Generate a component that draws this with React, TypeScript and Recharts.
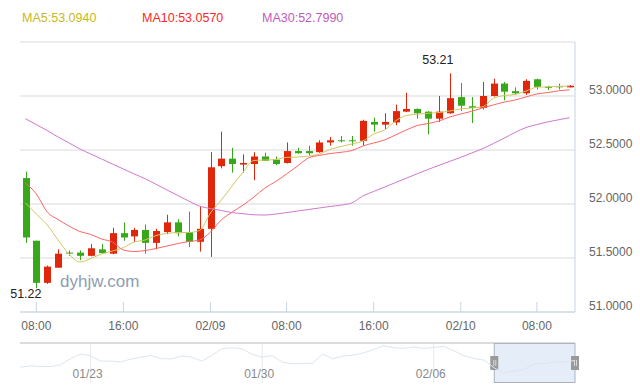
import {
  ComposedChart,
  LineChart,
  Bar,
  Line,
  XAxis,
  YAxis,
  CartesianGrid,
  ReferenceArea,
} from "recharts";

// hourly candles, 02/08 07:00 -> 02/10 11:00 (06:00 slot has no trading)
const times = [
  "02/08 07:00", "02/08 08:00", "02/08 09:00", "02/08 10:00", "02/08 11:00", "02/08 12:00",
  "02/08 13:00", "02/08 14:00", "02/08 15:00", "02/08 16:00", "02/08 17:00", "02/08 18:00",
  "02/08 19:00", "02/08 20:00", "02/08 21:00", "02/08 22:00", "02/08 23:00",
  "02/09 00:00", "02/09 01:00", "02/09 02:00", "02/09 03:00", "02/09 04:00", "02/09 05:00",
  "02/09 07:00", "02/09 08:00", "02/09 09:00", "02/09 10:00", "02/09 11:00", "02/09 12:00",
  "02/09 13:00", "02/09 14:00", "02/09 15:00", "02/09 16:00", "02/09 17:00", "02/09 18:00",
  "02/09 19:00", "02/09 20:00", "02/09 21:00", "02/09 22:00", "02/09 23:00",
  "02/10 00:00", "02/10 01:00", "02/10 02:00", "02/10 03:00", "02/10 04:00", "02/10 05:00",
  "02/10 07:00", "02/10 08:00", "02/10 09:00", "02/10 10:00", "02/10 11:00",
];

const opens = [
  52.24, 51.66, 51.27, 51.41, 51.55, 51.55, 51.52, 51.58, 51.54, 51.73, 51.7,
  51.76, 51.64, 51.74, 51.83, 51.74, 51.65, 51.77, 52.35, 52.42, 52.365, 52.37,
  52.44, 52.41, 52.38, 52.49, 52.49, 52.48, 52.57, 52.59, 52.59, 52.585, 52.76,
  52.735, 52.755, 52.855, 52.88, 52.855, 52.79, 52.84, 52.99, 52.905, 52.89,
  53.0, 53.115, 53.045, 53.025, 53.155, 53.085, 53.09, 53.08,
];
const closes = [
  51.69, 51.27, 51.42, 51.54, 51.545, 51.52, 51.59, 51.545, 51.73, 51.69, 51.76,
  51.64, 51.75, 51.83, 51.73, 51.65, 51.77, 52.34, 52.42, 52.37, 52.38, 52.44,
  52.4, 52.37, 52.49, 52.47, 52.47, 52.57, 52.59, 52.585, 52.585, 52.77, 52.735,
  52.76, 52.86, 52.88, 52.84, 52.79, 52.855, 52.98, 52.91, 52.89, 53.0, 53.115,
  53.04, 53.025, 53.14, 53.085, 53.08, 53.085, 53.095,
];
const highs = [
  52.3, 51.66, 51.43, 51.58, 51.57, 51.57, 51.63, 51.63, 51.78, 51.83, 51.78,
  51.81, 51.77, 51.9, 51.86, 51.93, 51.98, 52.48, 52.67, 52.52, 52.46, 52.48,
  52.475, 52.44, 52.57, 52.52, 52.54, 52.59, 52.62, 52.63, 52.63, 52.78, 52.8,
  52.84, 52.92, 53.03, 52.885, 52.86, 53.0, 53.21, 53.12, 52.99, 53.13, 53.16,
  53.13, 53.08, 53.155, 53.16, 53.095, 53.115, 53.1,
];
const lows = [
  51.64, 51.22, 51.26, 51.41, 51.52, 51.48, 51.515, 51.54, 51.535, 51.66, 51.65,
  51.54, 51.58, 51.72, 51.7, 51.6, 51.56, 51.51, 52.33, 52.29, 52.29, 52.22,
  52.4, 52.36, 52.375, 52.465, 52.45, 52.475, 52.54, 52.57, 52.54, 52.54, 52.67,
  52.69, 52.73, 52.85, 52.79, 52.645, 52.76, 52.835, 52.86, 52.75, 52.875, 52.995,
  52.96, 53.01, 53.01, 53.06, 53.055, 53.06, 53.08,
];

const ma5 = [
  52.01, 51.907, 51.806, 51.667, 51.537, 51.463, 51.495, 51.537, 51.565, 51.597,
  51.648, 51.667, 51.708, 51.727, 51.736, 51.736, 51.755, 51.917, 52.037, 52.167,
  52.296, 52.403, 52.407, 52.412, 52.432, 52.435, 52.444, 52.463, 52.505, 52.532,
  52.556, 52.583, 52.648, 52.685, 52.769, 52.82, 52.831, 52.84, 52.847, 52.861,
  52.88, 52.889, 52.9, 52.978, 53.004, 53.014, 53.046, 53.081, 53.085, 53.088, 53.094,
];
const ma10 = [
  52.194, 52.093, 51.926, 51.856, 51.796, 51.745, 51.718, 51.676, 51.648, 51.574,
  51.56, 51.569, 51.588, 51.611, 51.634, 51.653, 51.667, 51.74, 51.852, 51.926,
  51.99, 52.065, 52.148, 52.208, 52.278, 52.352, 52.426, 52.45, 52.467, 52.479,
  52.495, 52.537, 52.565, 52.593, 52.639, 52.685, 52.727, 52.745, 52.769, 52.806,
  52.833, 52.858, 52.889, 52.917, 52.944, 52.963, 52.991, 53.019, 53.032, 53.048, 53.057,
];
const ma30 = [
  52.79, 52.735, 52.68, 52.62, 52.566, 52.51, 52.463, 52.417, 52.37, 52.324,
  52.278, 52.234, 52.183, 52.13, 52.079, 52.028, 51.98, 51.958, 51.94, 51.92,
  51.91, 51.9, 51.898, 51.907, 51.92, 51.935, 51.949, 51.963, 51.977, 51.99,
  52.01, 52.074, 52.116, 52.157, 52.198, 52.239, 52.28, 52.32, 52.358, 52.395,
  52.432, 52.472, 52.512, 52.56, 52.61, 52.663, 52.708, 52.736, 52.76, 52.78, 52.799,
];

const xTicks = [
  "02/08 08:00", "02/08 16:00", "02/09 00:00", "02/09 08:00",
  "02/09 16:00", "02/10 00:00", "02/10 08:00",
];
const yTicks = [51, 51.5, 52, 52.5, 53];

const legendNames = ["MA5", "MA10", "MA30"];
const legendValues = ["53.0940", "53.0570", "52.7990"];

// overview strip under the chart (whole history, coarse)
const sliderValues = [
  52.17, 52.36, 52.27, 52.27, 52.5, 53.36, 54.02, 53.79, 53.03, 53.03, 52.93,
  53.31, 53.6, 53.83, 53.36, 53.36, 53.74, 53.6, 53.03, 53.83, 54.78, 54.93,
  54.78, 53.98, 53.6, 53.79, 52.88, 52.65, 52.69, 52.74, 54.02, 53.36, 53.74,
  53.88, 54.17, 54.64, 55.21, 54.93, 54.83, 55.02, 54.83, 54.97, 55.12, 54.5,
  53.79, 53.4, 53.17, 52.08, 51.36, 51.65, 51.89, 52.65, 52.69, 52.88, 52.93, 53.12,
];
const sliderTicks = [7, 24, 41];
const sliderTickLabels = ["01/23", "01/30", "02/06"];
const sliderWindow = [47, 55];

const RED = "#e0260b";
const GREEN = "#37a81a";
const BORDER = "#c8d4e2";
const LABEL = "#666";
const FONT = "'Liberation Sans', Arial, sans-serif";
const maColors = ["#c9b820", "#ff2626", "#bd5cbd"];
const maLineColors = ["#d2c65e", "#ff6464", "#cf78cf"];

const rows = times.map((time, i) => ({
  time,
  open: opens[i],
  close: closes[i],
  high: highs[i],
  low: lows[i],
  range: [lows[i], highs[i]],
  ma5: ma5[i],
  ma10: ma10[i],
  ma30: ma30[i],
}));

const hiIdx = highs.indexOf(Math.max(...highs));
const loIdx = lows.indexOf(Math.min(...lows));

const sliderRows = sliderValues.map((v, i) => ({ i, v }));

function fmtTime(t: string) {
  const [d, h] = t.split(" ");
  return h === "00:00" ? d : h;
}

function Candle(props: any) {
  const { x, y, width, height, payload, index } = props;
  const { open, close, high, low } = payload;
  const top = Math.min(y, y + height);
  const bot = Math.max(y, y + height);
  const span = high - low || 1;
  const py = (v: number) => top + ((high - v) / span) * (bot - top);
  const cx = Math.round(x + width / 2) + 0.5;
  const color = close >= open ? RED : GREEN;
  const bTop = py(Math.max(open, close));
  const bBot = py(Math.min(open, close));
  const bw = 7;
  return (
    <g>
      <line x1={cx} x2={cx} y1={top} y2={bot} stroke={color} strokeWidth={1} />
      <rect
        x={cx - bw / 2}
        y={bTop}
        width={bw}
        height={Math.max(1, bBot - bTop)}
        fill={color}
      />
      {index === hiIdx && (
        <text x={cx + 3} y={top - 9} textAnchor="end" fontSize={12.5} fill="#222" fontFamily={FONT}>
          {high.toFixed(2)}
        </text>
      )}
      {index === loIdx && (
        <text x={cx + 5} y={bot + 10} textAnchor="end" fontSize={12.5} fill="#222" fontFamily={FONT}>
          {low.toFixed(2)}
        </text>
      )}
    </g>
  );
}

function TimeTick(props: any) {
  const { x, y, payload } = props;
  return (
    <g>
      <line x1={x} x2={x} y1={y - 10} y2={y} stroke={BORDER} />
      <text x={x} y={y + 18} textAnchor="middle" fontSize={12} fill={LABEL} fontFamily={FONT}>
        {fmtTime(payload.value)}
      </text>
    </g>
  );
}

function PriceTick(props: any) {
  const { x, y, payload } = props;
  return (
    <text x={x + 14} y={y - 2} textAnchor="start" fontSize={12} fill={LABEL} fontFamily={FONT}>
      {Number(payload.value).toFixed(4)}
    </text>
  );
}

// bottom axis of the overview strip: y is the strip's bottom edge
function SliderTick(props: any) {
  const { x, y, payload } = props;
  const k = sliderTicks.indexOf(Number(payload.value));
  if (k < 0) return <g />;
  return (
    <g>
      <line x1={x} x2={x} y1={y - 40} y2={y} stroke="#e8e8e8" />
      <text x={x - 3} y={y - 5.5} textAnchor="middle" fontSize={12} fill="#8a8a8a" fontFamily={FONT}>
        {sliderTickLabels[k]}
      </text>
    </g>
  );
}

function WindowShape(props: any) {
  const { x, y, width, height } = props;
  const hy = y + height / 2 - 7;
  const handle = (hx: number) => (
    <g>
      <rect x={hx - 4} y={hy} width={8} height={14} fill="#9a9a9a" />
      <line x1={hx - 0.5} x2={hx - 0.5} y1={hy + 4} y2={hy + 10} stroke="#d8d8d8" />
      <line x1={hx + 1.5} x2={hx + 1.5} y1={hy + 4} y2={hy + 10} stroke="#d8d8d8" />
    </g>
  );
  return (
    <g>
      <rect x={x} y={y + 0.5} width={width} height={height - 1} fill="#dfe9f7" fillOpacity={0.8} stroke="#a9b3c0" />
      {handle(x)}
      {handle(x + width)}
    </g>
  );
}

export default function App() {
  return (
    <div
      style={{
        position: "absolute",
        left: 0,
        top: 0,
        width: 640,
        height: 385,
        background: "#fff",
        fontFamily: FONT,
      }}
    >
      <ComposedChart
        width={640}
        height={340}
        data={rows}
        margin={{ top: 42, right: 0, left: 20, bottom: 8 }}
      >
        <CartesianGrid vertical={false} stroke="#d9d9d9" />
        <XAxis
          dataKey="time"
          ticks={xTicks}
          interval={0}
          height={20}
          tickSize={0}
          tickMargin={0}
          tickLine={false}
          axisLine={{ stroke: BORDER }}
          tick={<TimeTick />}
        />
        <XAxis
          xAxisId="top"
          dataKey="time"
          orientation="top"
          height={0}
          tick={false}
          tickLine={false}
          axisLine={{ stroke: BORDER }}
        />
        <YAxis
          orientation="right"
          width={65}
          domain={[51, 53.5]}
          ticks={yTicks}
          allowDataOverflow
          tickSize={0}
          tickMargin={0}
          tickLine={false}
          axisLine={{ stroke: BORDER }}
          tick={<PriceTick />}
        />
        <YAxis
          yAxisId="left"
          orientation="left"
          width={0}
          tick={false}
          tickLine={false}
          axisLine={{ stroke: BORDER }}
        />
        <Bar
          dataKey="range"
          isAnimationActive={false}
          shape={(p: any) => <Candle {...p} />}
        />
        <Line type="monotone" dataKey="ma5" stroke={maLineColors[0]} strokeWidth={1} dot={false} activeDot={false} isAnimationActive={false} />
        <Line type="monotone" dataKey="ma10" stroke={maLineColors[1]} strokeWidth={1} dot={false} activeDot={false} isAnimationActive={false} />
        <Line type="monotone" dataKey="ma30" stroke={maLineColors[2]} strokeWidth={1} dot={false} activeDot={false} isAnimationActive={false} />
      </ComposedChart>

      <div style={{ position: "absolute", left: 0, top: 342 }}>
        <LineChart
          width={640}
          height={42}
          data={sliderRows}
          margin={{ top: 0, right: 65, left: 20, bottom: 0 }}
        >
          <XAxis
            xAxisId="edge"
            dataKey="i"
            orientation="top"
            height={1}
            tick={false}
            tickLine={false}
            axisLine={{ stroke: "#b8b8b8" }}
          />
          <XAxis
            dataKey="i"
            orientation="bottom"
            height={1}
            interval={0}
            tickSize={0}
            tickMargin={0}
            tickLine={false}
            axisLine={false}
            tick={<SliderTick />}
          />
          <YAxis hide domain={[49.94, 55.59]} />
          <ReferenceArea
            x1={sliderWindow[0]}
            x2={sliderWindow[1]}
            ifOverflow="visible"
            shape={(p: any) => <WindowShape {...p} />}
          />
          <Line type="linear" dataKey="v" stroke="#dde6f0" strokeWidth={1} dot={false} activeDot={false} isAnimationActive={false} />
        </LineChart>
      </div>

      <svg
        width={640}
        height={385}
        style={{ position: "absolute", left: 0, top: 0, pointerEvents: "none" }}
      >
        {legendNames.map((name, i) => (
          <text
            key={name}
            x={22 + i * 120}
            y={21.5}
            fontSize={12.5}
            fill={maColors[i]}
            fontFamily={FONT}
          >
            {`${name}:${legendValues[i]}`}
          </text>
        ))}
        <text x={60} y={287} fontSize={17} fill="#8e9db2" fontFamily={FONT}>
          dyhjw.com
        </text>
      </svg>
    </div>
  );
}
